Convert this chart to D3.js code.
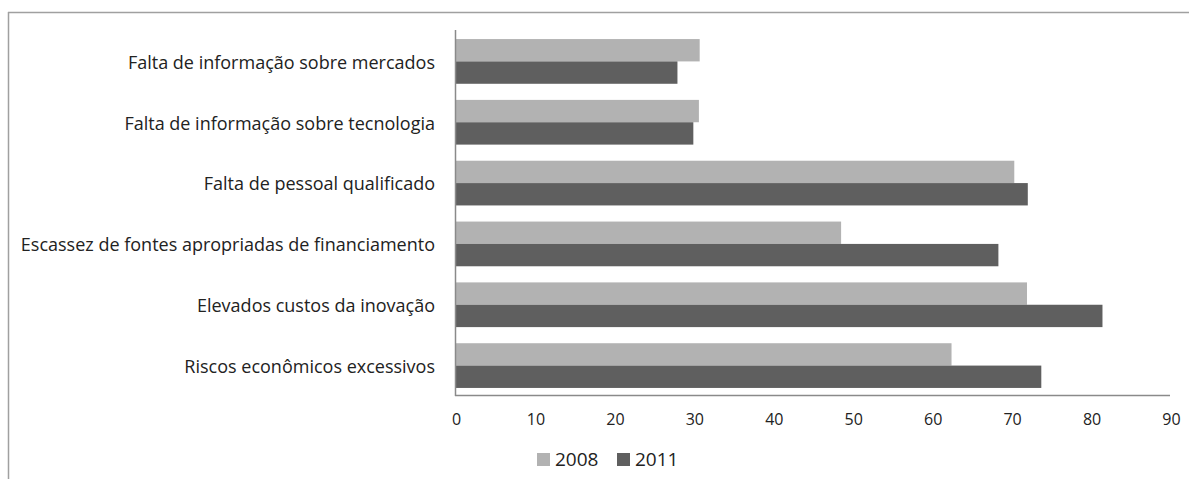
<!DOCTYPE html>
<html>
<head>
<meta charset="utf-8">
<script src="https://cdn.jsdelivr.net/npm/d3@7"></script>
<style>
  html, body { margin: 0; padding: 0; background: #fff; }
  svg { display: block; }
  text { font-family: "Open Sans", "Noto Sans", sans-serif; fill: #222; }
</style>
</head>
<body>
<svg id="chart" width="1189" height="479"></svg>
<script>
// Obstáculos à inovação (% das empresas), 2008 vs 2011
const categories = [
  "Falta de informação sobre mercados",
  "Falta de informação sobre tecnologia",
  "Falta de pessoal qualificado",
  "Escassez de fontes apropriadas de financiamento",
  "Elevados custos da inovação",
  "Riscos econômicos excessivos"
];
const seriesNames = ["2008", "2011"];
const values2008 = [30.8, 30.7, 70.4, 48.6, 72.0, 62.5];
const values2011 = [28.0, 30.0, 72.1, 68.4, 81.5, 73.8];
const xTicks = [0, 10, 20, 30, 40, 50, 60, 70, 80, 90];
const colors = ["#b2b2b2", "#5f5f5f"];

const svg = d3.select("#chart");

// outer frame (top and left edges)
svg.append("line").attr("x1", 8).attr("x2", 1189).attr("y1", 12.5).attr("y2", 12.5)
  .attr("stroke", "#a0a0a0").attr("stroke-width", 1.5);
svg.append("line").attr("x1", 8.5).attr("x2", 8.5).attr("y1", 12).attr("y2", 479)
  .attr("stroke", "#a0a0a0").attr("stroke-width", 1.5);

const plot = { left: 455, right: 1170, top: 30, bottom: 395 };

const x = d3.scaleLinear().domain([0, 90]).range([plot.left, plot.right]);
const y = d3.scaleBand().domain(categories).range([plot.top, plot.bottom]);
const groupFrac = 0.735;
const sub = d3.scaleBand().domain(seriesNames)
  .range([0, y.bandwidth() * groupFrac]);
const groupOffset = (y.bandwidth() * (1 - groupFrac)) / 2 + 1;

const rows = categories.map((c, i) => ({
  cat: c,
  vals: [values2008[i], values2011[i]]
}));

const g = svg.append("g");
const rowG = g.selectAll("g.row").data(rows).join("g")
  .attr("class", "row")
  .attr("transform", d => `translate(0,${y(d.cat) + groupOffset})`);

rowG.selectAll("rect").data(d => d.vals.map((v, k) => ({ v, k })))
  .join("rect")
  .attr("x", x(0))
  .attr("y", d => sub(seriesNames[d.k]))
  .attr("width", d => x(d.v) - x(0))
  .attr("height", sub.bandwidth())
  .attr("fill", d => colors[d.k]);

// category labels
g.selectAll("text.cat").data(categories).join("text")
  .attr("class", "cat")
  .attr("x", 435)
  .attr("y", d => y(d) + groupOffset + sub.bandwidth() + 1)
  .attr("dy", "0.35em")
  .attr("text-anchor", "end")
  .style("font-size", "18px")
  .text(d => d);

// axes lines
g.append("line").attr("x1", plot.left + 0.5).attr("x2", plot.left + 0.5)
  .attr("y1", plot.top).attr("y2", plot.bottom + 1)
  .attr("stroke", "#8a8a8a").attr("stroke-width", 1.5);
g.append("line").attr("x1", plot.left).attr("x2", plot.right)
  .attr("y1", plot.bottom + 0.5).attr("y2", plot.bottom + 0.5)
  .attr("stroke", "#8a8a8a").attr("stroke-width", 1.5);

// x tick labels
const xAxis = d3.axisBottom(x).tickValues(xTicks).tickSize(0).tickPadding(0);
const ax = g.append("g").attr("transform", `translate(1,${plot.bottom + 30})`).call(xAxis);
ax.select(".domain").remove();
ax.selectAll("text").style("font-size", "16px").style("font-family", "'Open Sans', sans-serif")
  .attr("fill", "#222").attr("y", 0).attr("dy", "0");

// legend
const legend = svg.append("g").attr("transform", "translate(537,453)");
const legendX = [0, 80];
seriesNames.forEach((s, k) => {
  const lg = legend.append("g").attr("transform", `translate(${legendX[k]},0)`);
  lg.append("rect").attr("width", 13).attr("height", 13).attr("fill", colors[k]);
  lg.append("text").attr("x", 18).attr("y", 13).attr("dy", "0")
    .style("font-size", "19px").text(s);
});
</script>
</body>
</html>
